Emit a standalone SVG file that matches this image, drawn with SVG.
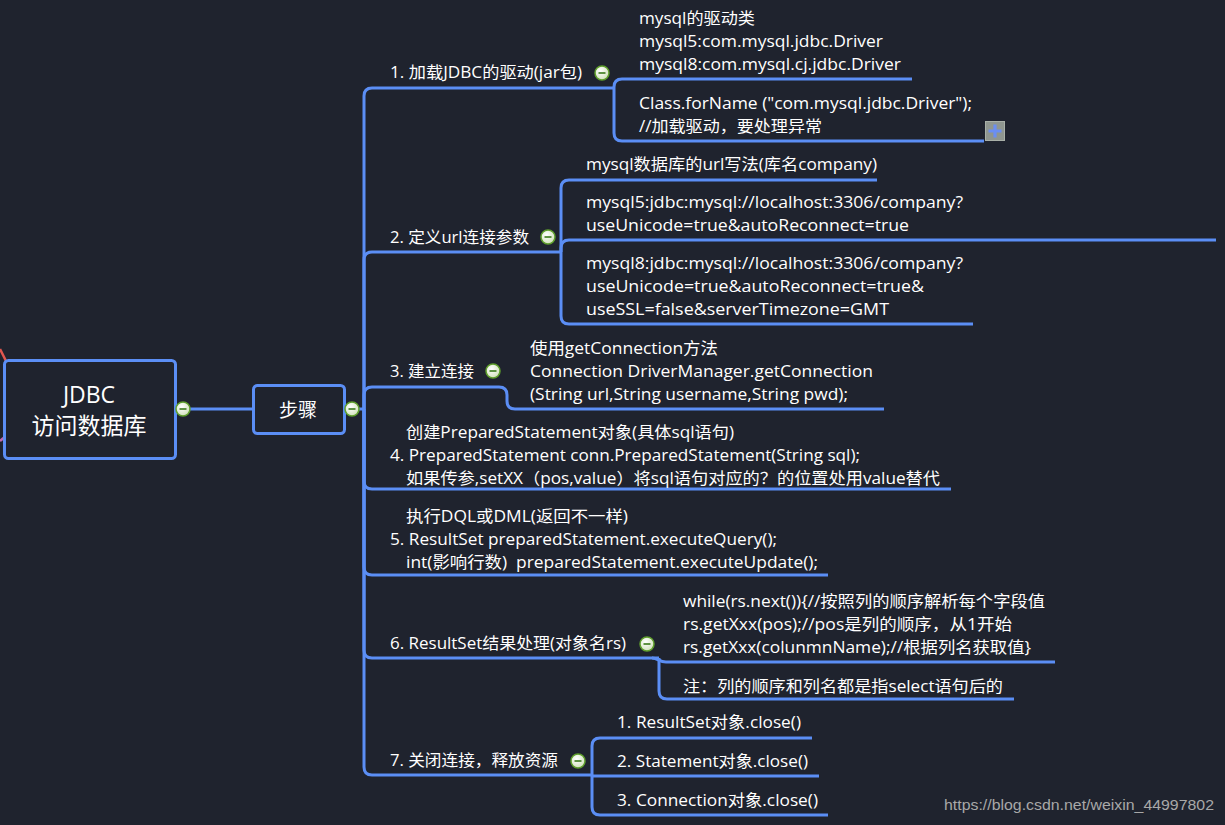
<svg xmlns="http://www.w3.org/2000/svg" width="1225" height="825" viewBox="0 0 1225 825">
<defs>
<style>
.bg{fill:#1f232e}
.ln{fill:none;stroke:#5b8ef5;stroke-width:3;stroke-linecap:butt}
.box{fill:#1f232e;stroke:#5b8ef5;stroke-width:3}
.t{font-family:"Open Sans","Noto Sans CJK SC",sans-serif;font-size:16px;fill:#ffffff}
.big{font-family:"Open Sans","Noto Sans CJK SC",sans-serif;font-size:23px;fill:#ffffff;text-anchor:middle}
.mid{font-family:"Open Sans","Noto Sans CJK SC",sans-serif;font-size:19px;fill:#ffffff;text-anchor:middle}
.wm{font-family:"Liberation Sans",Arial,sans-serif;font-size:15px;fill:#a8a8a8}
.cc{fill:url(#cg);stroke:#5f9f2c;stroke-width:1.5}
.cd{stroke:#3a7a1a;stroke-width:1.6}
</style>
<radialGradient id="cg" cx="0.4" cy="0.35" r="0.7">
<stop offset="0" stop-color="#ffffff"/>
<stop offset="1" stop-color="#cfe0b8"/>
</radialGradient>
<g id="collapse">
<circle cx="0" cy="0" r="7" class="cc"/>
<line x1="-3.5" y1="0" x2="3.5" y2="0" class="cd"/>
</g>
</defs>
<rect class="bg" x="0" y="0" width="1225" height="825"/>

<g id="connectors">
<line x1="0" y1="349" x2="6" y2="361" stroke="#e0574f" stroke-width="2.5"/>
<line x1="0" y1="441" x2="6" y2="436" stroke="#c06ab0" stroke-width="2.5"/>
<path class="ln" d="M190 409 H253"/>
<path class="ln" d="M359 409 H364"/>
<path class="ln" d="M364 409 V96 Q364 88 372 88 H614"/>
<path class="ln" d="M364 409 V260 Q364 252 372 252 H561"/>
<path class="ln" d="M364 409 V395 Q364 387 372 387 H499 Q507 387 507 395 V401 Q507 409 515 409 H884"/>
<path class="ln" d="M364 409 V481 Q364 489 372 489 H951"/>
<path class="ln" d="M364 409 V567 Q364 575 372 575 H828"/>
<path class="ln" d="M364 409 V650 Q364 658 372 658 H659"/>
<path class="ln" d="M364 409 V767 Q364 775 372 775 H592"/>
<path class="ln" d="M614 88 V87 Q614 79 622 79 H912"/>
<path class="ln" d="M614 88 V133 Q614 141 622 141 H984"/>
<path class="ln" d="M561 252 V188 Q561 180 569 180 H877"/>
<path class="ln" d="M561 252 V248 Q561 240 569 240 H1216"/>
<path class="ln" d="M561 252 V316 Q561 324 569 324 H973"/>
<path class="ln" d="M652 658 C658 658 659 662 666 662 H1055"/>
<path class="ln" d="M659 658 V691 Q659 699 667 699 H1014"/>
<path class="ln" d="M592 775 V746 Q592 738 600 738 H812"/>
<path class="ln" d="M592 776 H819"/>
<path class="ln" d="M592 775 V807 Q592 815 600 815 H828"/>
</g>

<g id="root">
<rect class="box" x="4.5" y="360.5" width="171" height="98" rx="4"/>
<text class="big" x="89" y="403">JDBC</text>
<text class="big" x="89" y="434">访问数据库</text>
<use href="#collapse" x="183" y="409"/>
</g>

<g id="steps">
<rect class="box" x="253.5" y="385.5" width="91" height="48" rx="4"/>
<text class="mid" x="298" y="417">步骤</text>
<use href="#collapse" x="352" y="409"/>
</g>

<g id="step1">
<text class="t" x="390" y="78" textLength="192" lengthAdjust="spacingAndGlyphs">1. 加载JDBC的驱动(jar包)</text>
<use href="#collapse" x="602" y="73"/>
</g>
<g id="step1-driver">
<text class="t" x="639" y="24" textLength="116" lengthAdjust="spacingAndGlyphs">mysql的驱动类</text>
<text class="t" x="639" y="47" textLength="244" lengthAdjust="spacingAndGlyphs">mysql5:com.mysql.jdbc.Driver</text>
<text class="t" x="639" y="70" textLength="262" lengthAdjust="spacingAndGlyphs">mysql8:com.mysql.cj.jdbc.Driver</text>
</g>
<g id="step1-forname">
<text class="t" x="639" y="109" textLength="333" lengthAdjust="spacingAndGlyphs">Class.forName ("com.mysql.jdbc.Driver");</text>
<text class="t" x="639" y="132" textLength="183" lengthAdjust="spacingAndGlyphs">//加载驱动，要处理异常</text>
<rect x="985.5" y="121.5" width="19" height="19" fill="#8f9690" stroke="#a9b0a8" stroke-width="1"/>
<path d="M988.5 131 H1001.5 M995 124.5 V137.5" stroke="#6b8ef2" stroke-width="3.2"/>
</g>

<g id="step2">
<text class="t" x="390" y="243" textLength="139" lengthAdjust="spacingAndGlyphs">2. 定义url连接参数</text>
<use href="#collapse" x="548" y="237"/>
</g>
<g id="step2-url">
<text class="t" x="586" y="170" textLength="291" lengthAdjust="spacingAndGlyphs">mysql数据库的url写法(库名company)</text>
</g>
<g id="step2-mysql5">
<text class="t" x="586" y="208" textLength="377" lengthAdjust="spacingAndGlyphs">mysql5:jdbc:mysql://localhost:3306/company?</text>
<text class="t" x="586" y="231" textLength="323" lengthAdjust="spacingAndGlyphs">useUnicode=true&amp;autoReconnect=true</text>
</g>
<g id="step2-mysql8">
<text class="t" x="586" y="269" textLength="377" lengthAdjust="spacingAndGlyphs">mysql8:jdbc:mysql://localhost:3306/company?</text>
<text class="t" x="586" y="292" textLength="338" lengthAdjust="spacingAndGlyphs">useUnicode=true&amp;autoReconnect=true&amp;</text>
<text class="t" x="586" y="315" textLength="303" lengthAdjust="spacingAndGlyphs">useSSL=false&amp;serverTimezone=GMT</text>
</g>

<g id="step3">
<text class="t" x="390" y="377" textLength="84" lengthAdjust="spacingAndGlyphs">3. 建立连接</text>
<use href="#collapse" x="493" y="371"/>
</g>
<g id="step3-conn">
<text class="t" x="530" y="354" textLength="188" lengthAdjust="spacingAndGlyphs">使用getConnection方法</text>
<text class="t" x="530" y="377" textLength="343" lengthAdjust="spacingAndGlyphs">Connection DriverManager.getConnection</text>
<text class="t" x="530" y="400" textLength="318" lengthAdjust="spacingAndGlyphs">(String url,String username,String pwd);</text>
</g>

<g id="step4">
<text class="t" x="406" y="438" textLength="328" lengthAdjust="spacingAndGlyphs">创建PreparedStatement对象(具体sql语句)</text>
<text class="t" x="390" y="461" textLength="470" lengthAdjust="spacingAndGlyphs">4. PreparedStatement conn.PreparedStatement(String sql);</text>
<text class="t" x="406" y="484" textLength="534" lengthAdjust="spacingAndGlyphs">如果传参,setXX（pos,value）将sql语句对应的？的位置处用value替代</text>
</g>

<g id="step5">
<text class="t" x="406" y="522" textLength="222" lengthAdjust="spacingAndGlyphs">执行DQL或DML(返回不一样)</text>
<text class="t" x="390" y="545" textLength="387" lengthAdjust="spacingAndGlyphs">5. ResultSet preparedStatement.executeQuery();</text>
<text class="t" x="406" y="568" textLength="412" lengthAdjust="spacingAndGlyphs" xml:space="preserve">int(影响行数)  preparedStatement.executeUpdate();</text>
</g>

<g id="step6">
<text class="t" x="390" y="649" textLength="236" lengthAdjust="spacingAndGlyphs">6. ResultSet结果处理(对象名rs)</text>
<use href="#collapse" x="647" y="644"/>
</g>
<g id="step6-loop">
<text class="t" x="683" y="607" textLength="362" lengthAdjust="spacingAndGlyphs">while(rs.next()){//按照列的顺序解析每个字段值</text>
<text class="t" x="683" y="630" textLength="329" lengthAdjust="spacingAndGlyphs">rs.getXxx(pos);//pos是列的顺序，从1开始</text>
<text class="t" x="683" y="653" textLength="348" lengthAdjust="spacingAndGlyphs">rs.getXxx(colunmnName);//根据列名获取值}</text>
</g>
<g id="step6-note">
<text class="t" x="683" y="692" textLength="320" lengthAdjust="spacingAndGlyphs">注：列的顺序和列名都是指select语句后的</text>
</g>

<g id="step7">
<text class="t" x="390" y="766" textLength="168" lengthAdjust="spacingAndGlyphs">7. 关闭连接，释放资源</text>
<use href="#collapse" x="578" y="761"/>
</g>
<g id="step7-rs">
<text class="t" x="617" y="728" textLength="184" lengthAdjust="spacingAndGlyphs">1. ResultSet对象.close()</text>
</g>
<g id="step7-stmt">
<text class="t" x="617" y="767" textLength="191" lengthAdjust="spacingAndGlyphs">2. Statement对象.close()</text>
</g>
<g id="step7-conn">
<text class="t" x="617" y="806" textLength="201" lengthAdjust="spacingAndGlyphs">3. Connection对象.close()</text>
</g>

<text class="wm" x="944" y="810" textLength="270" lengthAdjust="spacingAndGlyphs">https://blog.csdn.net/weixin_44997802</text>
</svg>
